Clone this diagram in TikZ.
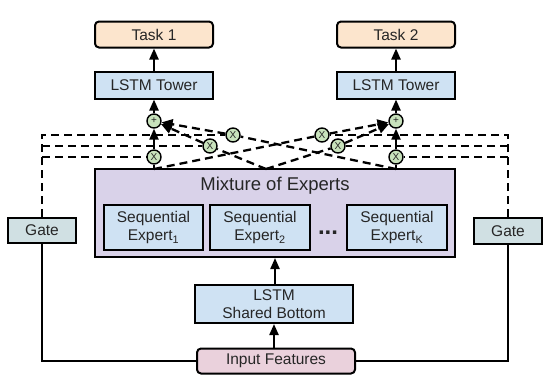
\documentclass[tikz,border=0pt]{standalone}
\usepackage{fontspec}
\setmainfont{Liberation Sans}
\usetikzlibrary{arrows.meta}
\definecolor{taskc}{HTML}{FCE5CD}
\definecolor{bluec}{HTML}{CFE2F3}
\definecolor{purplec}{HTML}{D9D2E9}
\definecolor{gatec}{HTML}{D0E0E3}
\definecolor{pinkc}{HTML}{EAD1DC}
\definecolor{greenc}{HTML}{C8E2BC}
\definecolor{textc}{HTML}{262626}
\begin{document}
\begin{tikzpicture}[x=1pt,y=-1pt,
  box/.style={draw=black, line width=2pt, inner sep=0pt, align=center,
    font=\fontsize{15.5}{18.5}\selectfont, text=textc},
  mult/.style={circle, draw=black, line width=1.4pt, fill=greenc, minimum size=14pt,
    inner sep=0pt, font=\fontsize{10}{10}\selectfont, text=textc},
  arr/.style={line width=2.2pt, -{Triangle[length=11pt,width=9pt]}},
  dline/.style={line width=2.3pt, dash pattern=on 8pt off 5pt},
  darr/.style={dline, -{Triangle[length=11pt,width=10pt]}},
  sline/.style={line width=2.2pt}
]
\useasboundingbox (0,0) rectangle (553,378);

% tasks and towers
\node[box, rounded corners=4pt, fill=taskc, minimum width=118pt, minimum height=26pt] (t1) at (154,34.5) {Task 1};
\node[box, rounded corners=4pt, fill=taskc, minimum width=118pt, minimum height=26pt] (t2) at (396,34.5) {Task 2};
\node[box, fill=bluec, minimum width=118pt, minimum height=27pt] (lt1) at (154,85) {LSTM Tower};
\node[box, fill=bluec, minimum width=118pt, minimum height=27pt] (lt2) at (396,85) {LSTM Tower};

% mixture of experts
\node[box, fill=purplec, minimum width=360pt, minimum height=88pt] (moe) at (275,213) {};
\node[font=\fontsize{18.5}{20}\selectfont, text=textc] (moet) at (275,186) {Mixture of Experts};
\node[box, fill=bluec, minimum width=99pt, minimum height=45pt] (e1) at (153.5,227.5) {Sequential\\Expert\textsubscript{1}};
\node[box, fill=bluec, minimum width=100pt, minimum height=45pt] (e2) at (260,227.5) {Sequential\\Expert\textsubscript{2}};
\node[box, fill=bluec, minimum width=100pt, minimum height=45pt] (ek) at (397,227.5) {Sequential\\Expert\textsubscript{K}};
\node[font=\bfseries\fontsize{24}{24}\selectfont, text=textc, anchor=base, inner sep=0pt] (dots) at (328,234) {...};

% bottom
\node[box, fill=bluec, minimum width=158pt, minimum height=38pt] (sb) at (274,304) {LSTM\\Shared Bottom};
\node[box, rounded corners=4pt, fill=pinkc, minimum width=158pt, minimum height=25pt] (inp) at (276,361) {Input Features};

% gates
\node[box, fill=gatec, minimum width=68pt, minimum height=25pt] (gl) at (42,230.5) {Gate};
\node[box, fill=gatec, minimum width=68pt, minimum height=26pt] (gr) at (508,231) {Gate};

% sum and product nodes
\node[mult] (pl) at (154,121) {+};
\node[mult] (pr) at (396,121) {+};
\node[mult] (xl1) at (154,157) {X};
\node[mult] (xl2) at (210,146) {X};
\node[mult] (xl3) at (233,135) {X};
\node[mult] (xr1) at (322,135) {X};
\node[mult] (xr2) at (338,146) {X};
\node[mult] (xr3) at (396,157) {X};

\coordinate (ta) at (154,169);
\coordinate (tb) at (266,169);
\coordinate (tc) at (396,169);

% solid arrows
\draw[arr] (inp.north -| sb) -- (sb.south);
\draw[arr] (sb.north -| 275,0) -- (moe.south -| 275,0);
\draw[arr] (xl1) -- (pl);
\draw[arr] (pl) -- (lt1);
\draw[arr] (lt1) -- (t1);
\draw[arr] (xr3) -- (pr);
\draw[arr] (pr) -- (lt2);
\draw[arr] (lt2) -- (t2);
\draw[sline] (ta) -- (xl1);
\draw[sline] (tc) -- (xr3);

% expert outputs to products
\draw[dline] (tb) -- (xl2);
\draw[dline] (tc) -- (xl3);
\draw[dline] (ta) -- (xr1);
\draw[dline] (tb) -- (xr2);

% products to sums
\draw[darr] (xl2) -- (pl);
\draw[darr] (xl3) -- (pl);
\draw[darr] (xr1) -- (pr);
\draw[darr] (xr2) -- (pr);

% gate outputs
\coordinate (glc) at (gl.north |- xl3);
\coordinate (grc) at (gr.north |- xr1);
\draw[dline] (gl.north) -- (glc) -- (xl3);
\draw[dline] (gl.north |- xl2) -- (xl2);
\draw[dline] (gl.north |- xl1) -- (xl1);
\draw[dline] (gr.north) -- (grc) -- (xr1);
\draw[dline] (gr.north |- xr2) -- (xr2);
\draw[dline] (gr.north |- xr3) -- (xr3);

% gate inputs
\draw[sline] (gl.south) |- (inp.west);
\draw[sline] (gr.south) |- (inp.east);
\end{tikzpicture}
\end{document}
